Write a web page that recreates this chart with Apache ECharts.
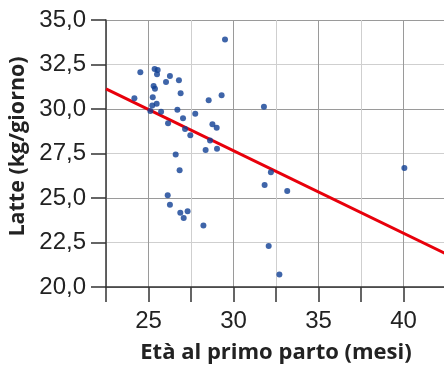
<!DOCTYPE html>
<html><head><meta charset="utf-8">
<script src="https://cdn.jsdelivr.net/npm/echarts@6/dist/echarts.min.js"></script>
<style>html,body{margin:0;padding:0;background:#fff}#c{width:444px;height:365px}</style>
</head><body><div id="c"></div>
<script>
var xTickLabels = ['25', '30', '35', '40'];
var yTickLabels = ['20,0', '22,5', '25,0', '27,5', '30,0', '32,5', '35,0'];
var ageMonths = [29.5, 24.52, 25.36, 25.54, 25.5, 26.26, 26.79, 26.03, 25.3, 25.38, 26.89, 24.17, 25.25, 29.3, 28.54, 31.79, 25.48, 25.22, 25.11, 25.74, 26.7, 27.75, 27.03, 26.15, 28.76, 29.01, 27.15, 27.46, 28.62, 28.36, 29.03, 26.6, 26.83, 32.2, 31.83, 33.16, 40.05, 26.13, 26.26, 26.87, 27.3, 27.07, 28.23, 32.07, 32.7];
var milkKg = [33.9, 32.06, 32.25, 32.19, 31.95, 31.85, 31.61, 31.52, 31.29, 31.14, 30.88, 30.6, 30.66, 30.77, 30.49, 30.13, 30.3, 30.19, 29.89, 29.85, 29.96, 29.74, 29.48, 29.2, 29.14, 28.95, 28.88, 28.52, 28.23, 27.7, 27.77, 27.45, 26.56, 26.44, 25.73, 25.39, 26.69, 25.15, 24.62, 24.17, 24.25, 23.88, 23.45, 22.3, 20.7];
var trendX = [22.5, 42.5];
var trendY = [31.13, 21.86];

var pts = ageMonths.map(function (x, i) { return [x, milkKg[i]]; });
var trend = trendX.map(function (x, i) { return [x, trendY[i]]; });
var labelFont = '"Liberation Sans Narrow", "Liberation Sans", sans-serif';
var titleFont = '"Open Sans", Lato, sans-serif';

var chart = echarts.init(document.getElementById('c'), null, { renderer: 'canvas' });
chart.setOption({
  animation: false,
  grid: { left: 106, top: 20, right: -2, bottom: 78, containLabel: false, outerBoundsMode: 'none' },
  xAxis: {
    type: 'value', min: 22.5, max: 42.5, interval: 2.5,
    name: 'Età al primo parto (mesi)', nameLocation: 'middle', nameGap: 55,
    nameTextStyle: { fontFamily: titleFont, fontWeight: 'bold', fontSize: 22, color: '#222' },
    axisLine: { lineStyle: { color: '#333', width: 1.5 } },
    axisTick: { show: true, length: 15, lineStyle: { color: '#333', width: 1.5 } },
    axisLabel: {
      margin: 22, fontFamily: labelFont, fontSize: 24, color: '#222',
      formatter: function (v) { var s = String(v); return xTickLabels.indexOf(s) >= 0 ? s : ''; }
    },
    splitLine: { show: true, lineStyle: { color: ['#cfcfcf', '#9a9a9a'] } }
  },
  yAxis: {
    type: 'value', min: 20, max: 35, interval: 2.5,
    name: 'Latte (kg/giorno)', nameLocation: 'middle', nameGap: 69, nameRotate: 90,
    nameTextStyle: { fontFamily: titleFont, fontWeight: 'bold', fontSize: 21.5, color: '#222', padding: [0, 0, 0, 14] },
    axisLine: { show: true, lineStyle: { color: '#333', width: 1.5 } },
    axisTick: { show: true, length: 15, lineStyle: { color: '#333', width: 1.5 } },
    axisLabel: {
      margin: 20, fontFamily: labelFont, fontSize: 24, color: '#222',
      formatter: function (v) { var i = Math.round((v - 20) / 2.5); return yTickLabels[i]; }
    },
    splitLine: { show: true, lineStyle: { color: ['#9a9a9a', '#cfcfcf'] } }
  },
  series: [
    { type: 'scatter', data: pts, symbolSize: 6, itemStyle: { color: '#0f3f94' }, z: 3 },
    { type: 'line', data: trend, symbol: 'none', lineStyle: { color: '#e8000b', width: 3 }, z: 2 }
  ]
});
</script></body></html>
